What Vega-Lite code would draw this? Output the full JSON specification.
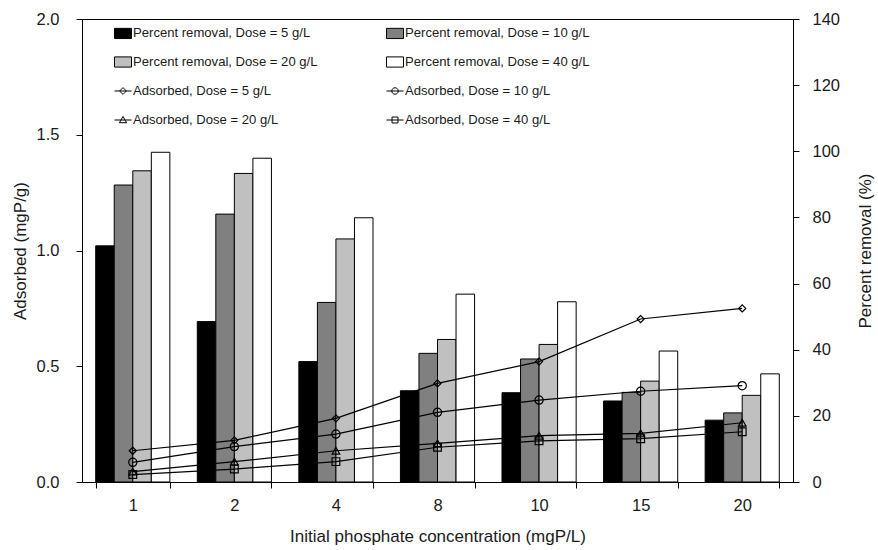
{
  "$schema": "https://vega.github.io/schema/vega-lite/v6.json",
  "width": 711,
  "height": 463,
  "autosize": {"type": "none"},
  "padding": {"left": 82, "top": 19, "right": 85, "bottom": 68},
  "background": "white",
  "datasets": {
    "removal": [
      {"conc": 1, "dose": 5, "series": "Percent removal, Dose = 5 g/L", "pct": 71.4},
      {"conc": 1, "dose": 10, "series": "Percent removal, Dose = 10 g/L", "pct": 89.8},
      {"conc": 1, "dose": 20, "series": "Percent removal, Dose = 20 g/L", "pct": 94.1},
      {"conc": 1, "dose": 40, "series": "Percent removal, Dose = 40 g/L", "pct": 99.7},
      {"conc": 2, "dose": 5, "series": "Percent removal, Dose = 5 g/L", "pct": 48.5},
      {"conc": 2, "dose": 10, "series": "Percent removal, Dose = 10 g/L", "pct": 81.0},
      {"conc": 2, "dose": 20, "series": "Percent removal, Dose = 20 g/L", "pct": 93.3},
      {"conc": 2, "dose": 40, "series": "Percent removal, Dose = 40 g/L", "pct": 97.9},
      {"conc": 4, "dose": 5, "series": "Percent removal, Dose = 5 g/L", "pct": 36.4},
      {"conc": 4, "dose": 10, "series": "Percent removal, Dose = 10 g/L", "pct": 54.3},
      {"conc": 4, "dose": 20, "series": "Percent removal, Dose = 20 g/L", "pct": 73.5},
      {"conc": 4, "dose": 40, "series": "Percent removal, Dose = 40 g/L", "pct": 79.9},
      {"conc": 8, "dose": 5, "series": "Percent removal, Dose = 5 g/L", "pct": 27.6},
      {"conc": 8, "dose": 10, "series": "Percent removal, Dose = 10 g/L", "pct": 38.9},
      {"conc": 8, "dose": 20, "series": "Percent removal, Dose = 20 g/L", "pct": 43.1},
      {"conc": 8, "dose": 40, "series": "Percent removal, Dose = 40 g/L", "pct": 56.8},
      {"conc": 10, "dose": 5, "series": "Percent removal, Dose = 5 g/L", "pct": 27.0},
      {"conc": 10, "dose": 10, "series": "Percent removal, Dose = 10 g/L", "pct": 37.2},
      {"conc": 10, "dose": 20, "series": "Percent removal, Dose = 20 g/L", "pct": 41.6},
      {"conc": 10, "dose": 40, "series": "Percent removal, Dose = 40 g/L", "pct": 54.5},
      {"conc": 15, "dose": 5, "series": "Percent removal, Dose = 5 g/L", "pct": 24.5},
      {"conc": 15, "dose": 10, "series": "Percent removal, Dose = 10 g/L", "pct": 27.1},
      {"conc": 15, "dose": 20, "series": "Percent removal, Dose = 20 g/L", "pct": 30.5},
      {"conc": 15, "dose": 40, "series": "Percent removal, Dose = 40 g/L", "pct": 39.6},
      {"conc": 20, "dose": 5, "series": "Percent removal, Dose = 5 g/L", "pct": 18.7},
      {"conc": 20, "dose": 10, "series": "Percent removal, Dose = 10 g/L", "pct": 20.9},
      {"conc": 20, "dose": 20, "series": "Percent removal, Dose = 20 g/L", "pct": 26.2},
      {"conc": 20, "dose": 40, "series": "Percent removal, Dose = 40 g/L", "pct": 32.7}
    ],
    "adsorbed": [
      {"conc": 1, "dose": 5, "series": "Adsorbed, Dose = 5 g/L", "q": 0.135},
      {"conc": 1, "dose": 10, "series": "Adsorbed, Dose = 10 g/L", "q": 0.085},
      {"conc": 1, "dose": 20, "series": "Adsorbed, Dose = 20 g/L", "q": 0.045},
      {"conc": 1, "dose": 40, "series": "Adsorbed, Dose = 40 g/L", "q": 0.032},
      {"conc": 2, "dose": 5, "series": "Adsorbed, Dose = 5 g/L", "q": 0.18},
      {"conc": 2, "dose": 10, "series": "Adsorbed, Dose = 10 g/L", "q": 0.153},
      {"conc": 2, "dose": 20, "series": "Adsorbed, Dose = 20 g/L", "q": 0.088},
      {"conc": 2, "dose": 40, "series": "Adsorbed, Dose = 40 g/L", "q": 0.056},
      {"conc": 4, "dose": 5, "series": "Adsorbed, Dose = 5 g/L", "q": 0.275},
      {"conc": 4, "dose": 10, "series": "Adsorbed, Dose = 10 g/L", "q": 0.207},
      {"conc": 4, "dose": 20, "series": "Adsorbed, Dose = 20 g/L", "q": 0.135},
      {"conc": 4, "dose": 40, "series": "Adsorbed, Dose = 40 g/L", "q": 0.088},
      {"conc": 8, "dose": 5, "series": "Adsorbed, Dose = 5 g/L", "q": 0.426},
      {"conc": 8, "dose": 10, "series": "Adsorbed, Dose = 10 g/L", "q": 0.301},
      {"conc": 8, "dose": 20, "series": "Adsorbed, Dose = 20 g/L", "q": 0.167},
      {"conc": 8, "dose": 40, "series": "Adsorbed, Dose = 40 g/L", "q": 0.15},
      {"conc": 10, "dose": 5, "series": "Adsorbed, Dose = 5 g/L", "q": 0.52},
      {"conc": 10, "dose": 10, "series": "Adsorbed, Dose = 10 g/L", "q": 0.354},
      {"conc": 10, "dose": 20, "series": "Adsorbed, Dose = 20 g/L", "q": 0.2},
      {"conc": 10, "dose": 40, "series": "Adsorbed, Dose = 40 g/L", "q": 0.178},
      {"conc": 15, "dose": 5, "series": "Adsorbed, Dose = 5 g/L", "q": 0.704},
      {"conc": 15, "dose": 10, "series": "Adsorbed, Dose = 10 g/L", "q": 0.392},
      {"conc": 15, "dose": 20, "series": "Adsorbed, Dose = 20 g/L", "q": 0.21},
      {"conc": 15, "dose": 40, "series": "Adsorbed, Dose = 40 g/L", "q": 0.187},
      {"conc": 20, "dose": 5, "series": "Adsorbed, Dose = 5 g/L", "q": 0.75},
      {"conc": 20, "dose": 10, "series": "Adsorbed, Dose = 10 g/L", "q": 0.416},
      {"conc": 20, "dose": 20, "series": "Adsorbed, Dose = 20 g/L", "q": 0.256},
      {"conc": 20, "dose": 40, "series": "Adsorbed, Dose = 40 g/L", "q": 0.217}
    ]
  },
  "config": {
    "font": "Liberation Sans",
    "view": {"stroke": "black", "strokeWidth": 1},
    "axis": {
      "grid": false,
      "domainColor": "black",
      "domainWidth": 1,
      "tickColor": "black",
      "tickSize": 6,
      "labelColor": "#1a1a1a",
      "titleColor": "#1a1a1a",
      "labelFontSize": 16.5,
      "titleFontSize": 17,
      "titleFontWeight": "normal"
    },
    "legend": {
      "orient": "none",
      "direction": "horizontal",
      "legendX": 32,
      "legendY": 5,
      "columns": 2,
      "columnPadding": 66,
      "rowPadding": 12,
      "padding": 0,
      "symbolSize": 289,
      "symbolStrokeColor": "black",
      "symbolStrokeWidth": 1,
      "symbolOpacity": 1,
      "symbolFillColor": "white",
      "labelFontSize": 13.1,
      "labelColor": "#1a1a1a",
      "labelOffset": 1,
      "labelLimit": 400
    }
  },
  "encoding": {
    "x": {
      "field": "conc",
      "type": "ordinal",
      "scale": {"paddingInner": 0.27, "paddingOuter": 0.135},
      "axis": {
        "title": "Initial phosphate concentration (mgP/L)",
        "labelAngle": 0,
        "tickBand": "extent",
        "labelPadding": 9,
        "titlePadding": 15
      }
    }
  },
  "layer": [
    {
      "data": {"name": "removal"},
      "mark": {"type": "bar", "stroke": "black", "strokeWidth": 1},
      "encoding": {
        "xOffset": {"field": "dose", "type": "ordinal", "scale": {"paddingInner": 0, "paddingOuter": 0}},
        "y": {
          "field": "pct",
          "type": "quantitative",
          "scale": {"domain": [0, 140], "nice": false},
          "axis": {
            "orient": "right",
            "title": "Percent removal (%)",
            "values": [0, 20, 40, 60, 80, 100, 120, 140],
            "labelPadding": 13,
            "titleAngle": 270,
            "titlePadding": 35
          }
        },
        "fill": {
          "field": "series",
          "type": "nominal",
          "title": null,
          "scale": {
            "domain": [
              "Percent removal, Dose = 5 g/L", "Percent removal, Dose = 10 g/L",
              "Percent removal, Dose = 20 g/L", "Percent removal, Dose = 40 g/L",
              "Adsorbed, Dose = 5 g/L", "Adsorbed, Dose = 10 g/L",
              "Adsorbed, Dose = 20 g/L", "Adsorbed, Dose = 40 g/L"
            ],
            "range": ["#000000", "#808080", "#c0c0c0", "#ffffff", "transparent", "transparent", "transparent", "transparent"]
          }
        }
      }
    },
    {
      "data": {"name": "adsorbed"},
      "encoding": {
        "y": {
          "field": "q",
          "type": "quantitative",
          "scale": {"domain": [0, 2], "nice": false},
          "axis": {
            "orient": "left",
            "title": "Adsorbed (mgP/g)",
            "values": [0, 0.5, 1, 1.5, 2],
            "format": ".1f",
            "labelPadding": 17,
            "titlePadding": 7
          }
        }
      },
      "layer": [
        {
          "mark": {"type": "line", "color": "black", "strokeWidth": 1.2},
          "encoding": {"detail": {"field": "series", "type": "nominal"}}
        },
        {
          "transform": [{"filter": "datum.dose == 5"}],
          "mark": {"type": "point", "shape": "diamond", "size": 50, "stroke": "black", "strokeWidth": 1.2, "fill": "transparent", "filled": false, "opacity": 1},
          "encoding": {}
        },
        {
          "transform": [{"filter": "datum.dose == 10"}],
          "mark": {"type": "point", "shape": "circle", "size": 68, "stroke": "black", "strokeWidth": 1.2, "fill": "transparent", "filled": false, "opacity": 1},
          "encoding": {}
        },
        {
          "transform": [{"filter": "datum.dose == 20"}],
          "mark": {"type": "point", "shape": "triangle-up", "size": 60, "stroke": "black", "strokeWidth": 1.2, "fill": "transparent", "filled": false, "opacity": 1},
          "encoding": {}
        },
        {
          "transform": [{"filter": "datum.dose == 40"}],
          "mark": {"type": "point", "shape": "square", "size": 60, "stroke": "black", "strokeWidth": 1.2, "fill": "transparent", "filled": false, "opacity": 1},
          "encoding": {}
        },
        {
          "mark": {"type": "point", "filled": true, "opacity": 0},
          "encoding": {
            "fill": {"field": "series", "type": "nominal", "title": null},
            "shape": {
              "field": "series",
              "type": "nominal",
              "title": null,
              "scale": {
                "domain": [
                  "Percent removal, Dose = 5 g/L", "Percent removal, Dose = 10 g/L",
                  "Percent removal, Dose = 20 g/L", "Percent removal, Dose = 40 g/L",
                  "Adsorbed, Dose = 5 g/L", "Adsorbed, Dose = 10 g/L",
                  "Adsorbed, Dose = 20 g/L", "Adsorbed, Dose = 40 g/L"
                ],
                "range": [
                  "M-1,-0.6H1V0.6H-1Z",
                  "M-1,-0.6H1V0.6H-1Z",
                  "M-1,-0.6H1V0.6H-1Z",
                  "M-1,-0.6H1V0.6H-1Z",
                  "M-1,0H1M0,-0.4L0.4,0L0,0.4L-0.4,0Z",
                  "M-1,0H1M-0.38,0A0.38,0.38,0,1,0,0.38,0A0.38,0.38,0,1,0,-0.38,0Z",
                  "M-1,0H1M0,-0.42L0.42,0.32L-0.42,0.32Z",
                  "M-1,0H1M-0.35,-0.35H0.35V0.35H-0.35Z"
                ]
              }
            }
          }
        }
      ]
    }
  ],
  "resolve": {"scale": {"y": "independent"}}
}
